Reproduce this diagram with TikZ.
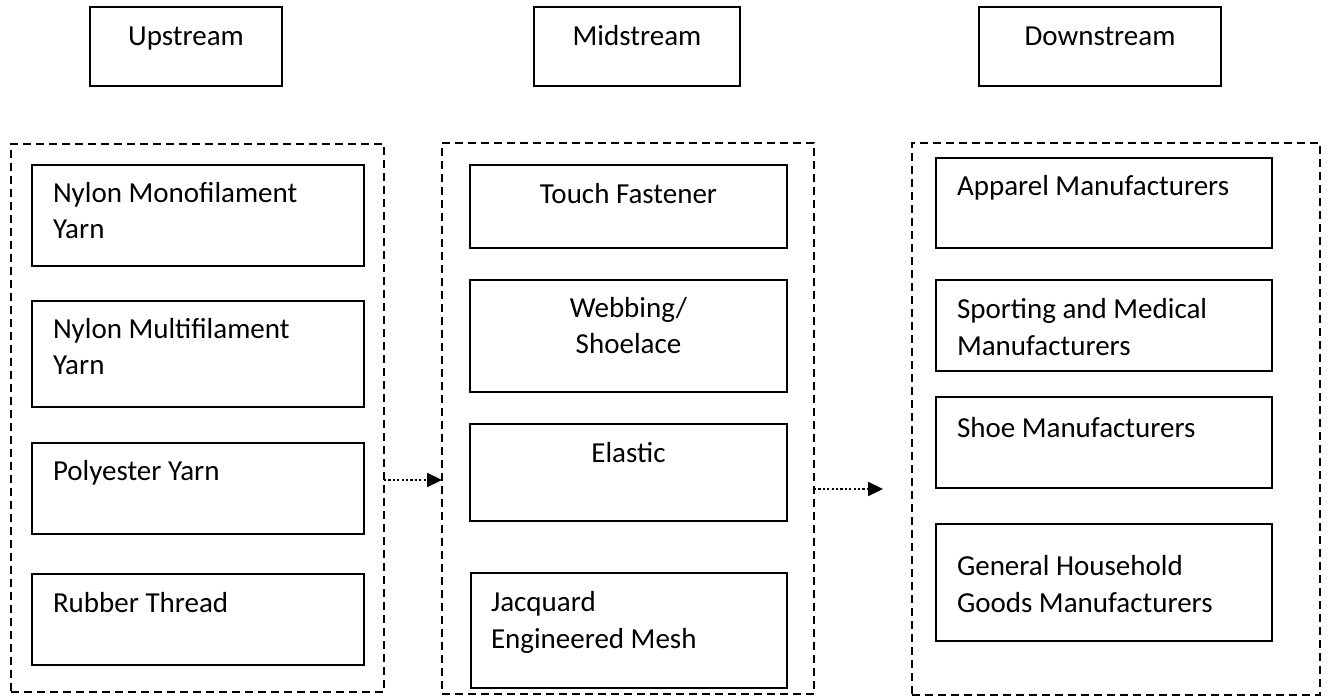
\documentclass[tikz,border=0pt]{standalone}
\usepackage{fontspec}
\setmainfont{Carlito}
\usetikzlibrary{arrows.meta}
\tikzset{
  solidbox/.style={draw=black, line width=1.6pt, inner sep=0pt, outer sep=0pt, anchor=north west},
  groupbox/.style={draw=black, line width=1.4pt, dash pattern=on 8pt off 5pt, inner sep=0pt, outer sep=0pt, anchor=north west},
  txt/.style={inner sep=0pt, outer sep=0pt, font=\fontsize{29}{36.5}\selectfont, align=left},
  ctxt/.style={inner sep=0pt, outer sep=0pt, font=\fontsize{29}{36.5}\selectfont, align=center},
  flow/.style={line width=2.2pt, dash pattern=on 2.2pt off 2.2pt, -{Triangle[length=15pt,width=14pt]}}
}
\begin{document}
\begin{tikzpicture}[x=1pt,y=-1pt]
\useasboundingbox (0,0) rectangle (1330,698);

% stage headers
\node[solidbox, minimum width=192, minimum height=79] (hup) at (90,7) {};
\node[ctxt, anchor=base] (hup-t) at (186,46) {Upstream};
\node[solidbox, minimum width=206, minimum height=79] (hmid) at (534,7) {};
\node[ctxt, anchor=base] (hmid-t) at (637,46) {Midstream};
\node[solidbox, minimum width=242, minimum height=79] (hdown) at (979,7) {};
\node[ctxt, anchor=base] (hdown-t) at (1100,46) {Downstream};

% group frames
\node[groupbox, minimum width=373, minimum height=548] (gup) at (11,144) {};
\node[groupbox, minimum width=372, minimum height=551] (gmid) at (442,143) {};
\node[groupbox, minimum width=408, minimum height=552] (gdown) at (912,143) {};

% upstream items (text anchored at the baseline of its last line)
\node[solidbox, minimum width=332, minimum height=101] (u1) at (32,165) {};
\node[txt, anchor=base west] (u1-t) at (53,238.5) {Nylon Monofilament\\Yarn};
\node[solidbox, minimum width=332, minimum height=106] (u2) at (32,301) {};
\node[txt, anchor=base west] (u2-t) at (53,374.5) {Nylon Multifilament\\Yarn};
\node[solidbox, minimum width=332, minimum height=91] (u3) at (32,443) {};
\node[txt, anchor=base west] (u3-t) at (53,480) {Polyester Yarn};
\node[solidbox, minimum width=332, minimum height=91] (u4) at (32,574) {};
\node[txt, anchor=base west] (u4-t) at (53,612) {Rubber Thread};

% midstream items
\node[solidbox, minimum width=317, minimum height=83] (m1) at (470,165) {};
\node[ctxt, anchor=base] (m1-t) at (628.5,203) {Touch Fastener};
\node[solidbox, minimum width=317, minimum height=112] (m2) at (470,280) {};
\node[ctxt, anchor=base] (m2-t) at (628.5,353.5) {Webbing/\\Shoelace};
\node[solidbox, minimum width=317, minimum height=97] (m3) at (470,424) {};
\node[ctxt, anchor=base] (m3-t) at (628.5,462) {Elastic};
\node[solidbox, minimum width=316, minimum height=115] (m4) at (471,573) {};
\node[txt, anchor=base west] (m4-t) at (491,648) {Jacquard\\Engineered Mesh};

% downstream items
\node[solidbox, minimum width=336, minimum height=90] (d1) at (936,158) {};
\node[txt, anchor=base west] (d1-t) at (957,195) {Apparel Manufacturers};
\node[solidbox, minimum width=336, minimum height=91] (d2) at (936,280) {};
\node[txt, anchor=base west] (d2-t) at (957,355) {Sporting and Medical\\Manufacturers};
\node[solidbox, minimum width=336, minimum height=91] (d3) at (936,397) {};
\node[txt, anchor=base west] (d3-t) at (957,437) {Shoe Manufacturers};
\node[solidbox, minimum width=336, minimum height=117] (d4) at (936,524) {};
\node[txt, anchor=base west] (d4-t) at (957,612) {General Household\\Goods Manufacturers};

% flow arrows
\coordinate (f1) at (0,480);
\coordinate (f2) at (0,489);
\coordinate (f2end) at (883,489);
\draw[flow] (gup.east |- f1) -- (gmid.west |- f1);
\draw[flow] (gmid.east |- f2) -- (f2end);
\end{tikzpicture}
\end{document}
